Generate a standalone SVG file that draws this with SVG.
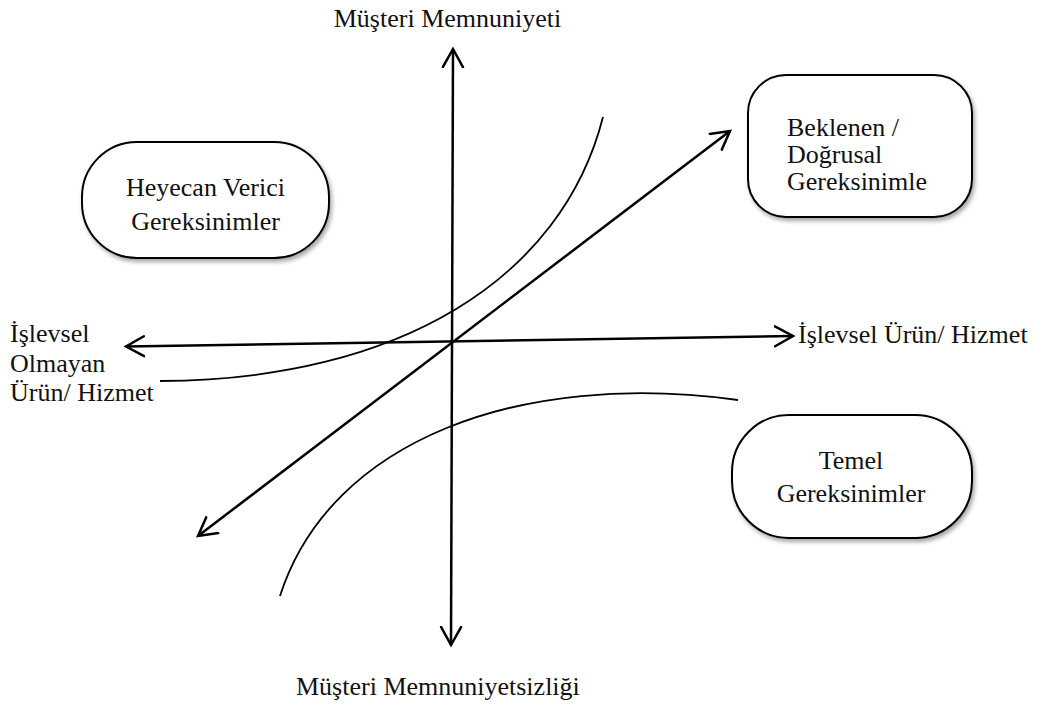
<svg xmlns="http://www.w3.org/2000/svg" width="1040" height="704" viewBox="0 0 1040 704">
  <style>
    .lbl { font-family: "Liberation Serif", "Times New Roman", serif; font-size: 26px; fill: #111; }
    .box { fill: #fff; stroke: #000; stroke-width: 2; filter: url(#shadow); }
    .axis { stroke: #000; stroke-width: 2.5; fill: none; }
    .curve { stroke: #000; stroke-width: 1.8; fill: none; }
  </style>
  <defs>
    <marker id="open-arrow" viewBox="0 0 22 24" refX="19" refY="12" markerWidth="22" markerHeight="24" markerUnits="userSpaceOnUse" orient="auto-start-reverse">
      <path d="M1,2 L19,12 L1,22" fill="none" stroke="#000" stroke-width="2.5" stroke-linecap="round" stroke-linejoin="miter"/>
    </marker>
    <filter id="shadow" x="-10%" y="-10%" width="125%" height="130%">
      <feDropShadow dx="2" dy="3" stdDeviation="2" flood-color="#000" flood-opacity="0.35"/>
    </filter>
  </defs>

  <rect width="1040" height="704" fill="#fff"/>

  <!-- connectors: axes, linear diagonal and the two Kano curves -->
  <g id="connectors">
    <line id="axis-vertical" class="axis" x1="453" y1="49" x2="451" y2="645" marker-start="url(#open-arrow)" marker-end="url(#open-arrow)"/>
    <line id="axis-horizontal" class="axis" x1="126" y1="346.5" x2="793" y2="336" marker-start="url(#open-arrow)" marker-end="url(#open-arrow)"/>
    <line id="diagonal" class="axis" x1="198" y1="536" x2="730" y2="131" marker-start="url(#open-arrow)" marker-end="url(#open-arrow)"/>
    <path id="curve-excitement" class="curve" d="M160,381 C400,380 562,278 603,117"/>
    <path id="curve-basic" class="curve" d="M280,596 C330,440 520,370 738,400"/>
  </g>

  <!-- axis labels -->
  <g id="label-top">
    <text class="lbl" x="447.5" y="27" text-anchor="middle">Müşteri Memnuniyeti</text>
  </g>
  <g id="label-bottom">
    <text class="lbl" x="296" y="695">Müşteri Memnuniyetsizliği</text>
  </g>
  <g id="label-left">
    <text class="lbl" x="10" y="342">İşlevsel</text>
    <text class="lbl" x="10" y="372">Olmayan</text>
    <text class="lbl" x="10" y="401">Ürün/ Hizmet</text>
  </g>
  <g id="label-right">
    <text class="lbl" x="798" y="343">İşlevsel Ürün/ Hizmet</text>
  </g>

  <!-- category nodes -->
  <g id="node-heyecan">
    <rect class="box" x="82" y="142" width="247" height="116" rx="55" ry="55"/>
    <text class="lbl" x="205.5" y="196" text-anchor="middle">Heyecan Verici</text>
    <text class="lbl" x="205.5" y="230" text-anchor="middle">Gereksinimler</text>
  </g>
  <g id="node-beklenen">
    <rect class="box" x="748" y="75" width="224" height="142" rx="38" ry="38"/>
    <text class="lbl" x="787" y="136">Beklenen /</text>
    <text class="lbl" x="787" y="163">Doğrusal</text>
    <text class="lbl" x="787" y="190">Gereksinimle</text>
  </g>
  <g id="node-temel">
    <rect class="box" x="732" y="415" width="240" height="123" rx="57" ry="57"/>
    <text class="lbl" x="851" y="469" text-anchor="middle">Temel</text>
    <text class="lbl" x="851" y="502" text-anchor="middle">Gereksinimler</text>
  </g>
</svg>
